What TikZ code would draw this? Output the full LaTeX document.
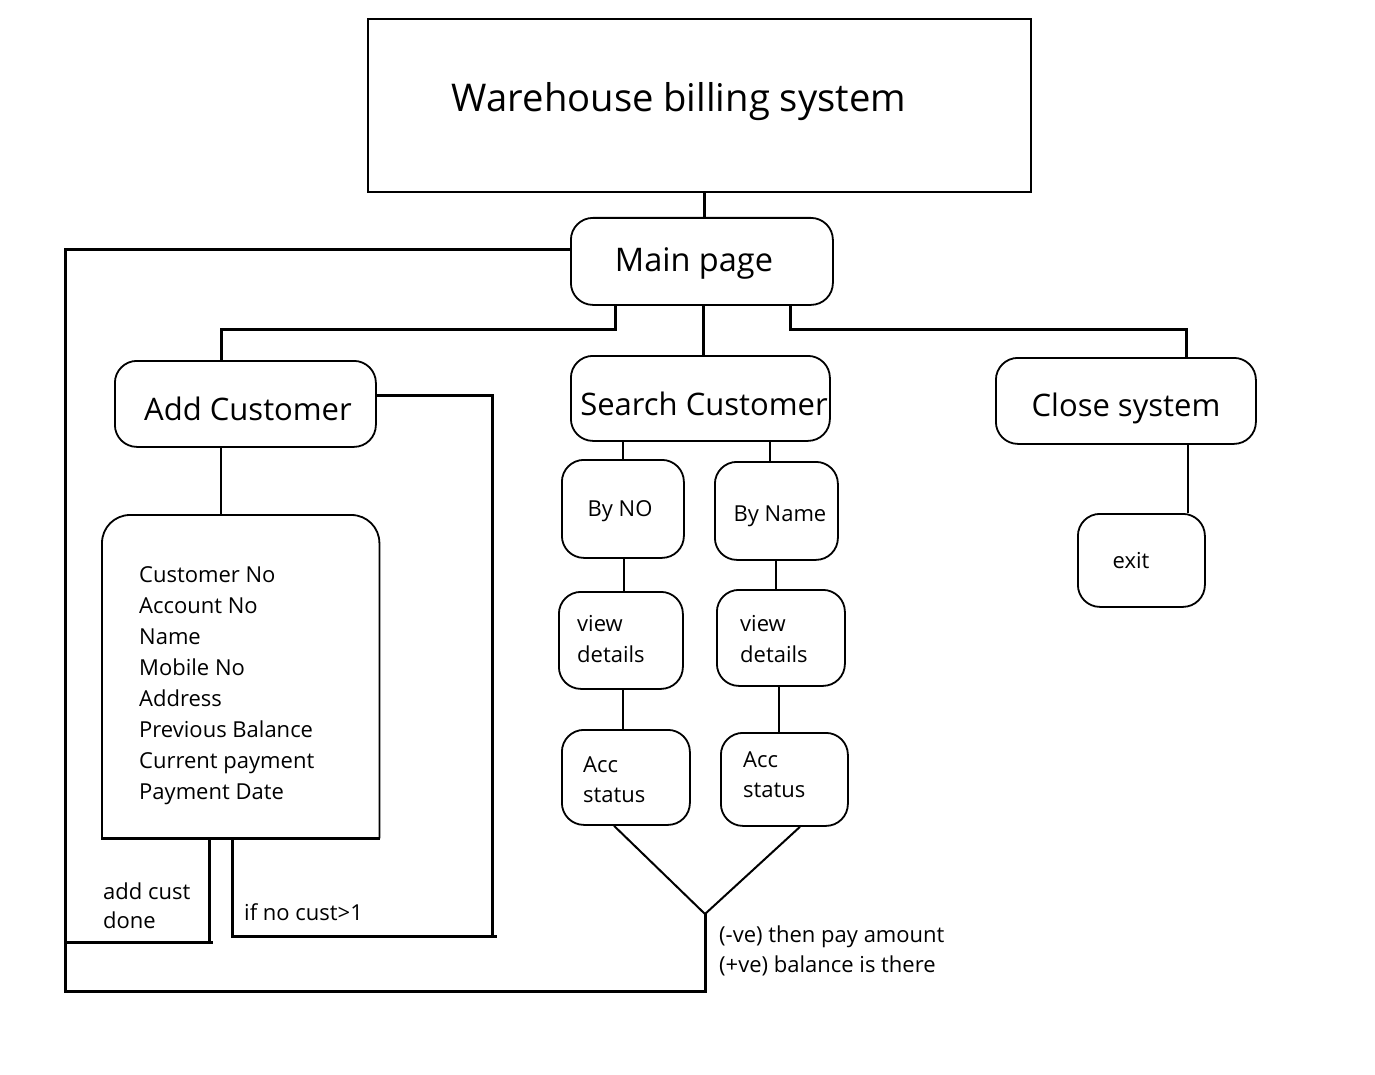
\documentclass[tikz,border=0pt]{standalone}
\usepackage{fontspec}
\setmainfont{Open Sans}
\begin{document}
\begin{tikzpicture}[x=1pt,y=-1pt,
  rbox/.style={draw, line width=1.8pt, rounded corners=22pt, inner sep=0pt, anchor=north west},
  sbox/.style={draw, line width=2.2pt, inner sep=0pt, anchor=north west},
  conn/.style={line width=3pt},
  thinconn/.style={line width=2pt},
  bigtxt/.style={inner sep=0pt, font=\fontsize{38.2}{45}\selectfont, anchor=base},
  lbltxt/.style={inner sep=0pt, font=\fontsize{31}{37}\selectfont, anchor=base},
  smalltxt/.style={inner sep=0pt, font=\fontsize{22}{27}\selectfont, anchor=base west},
  smallctr/.style={inner sep=0pt, font=\fontsize{22}{27}\selectfont, anchor=base}
]
\fill[white] (0,0) rectangle (1375,1075);
\useasboundingbox (0,0) rectangle (1375,1075);

% boxes
\node[sbox, minimum width=663, minimum height=173] (title) at (367,18) {};
\node[rbox, minimum width=262, minimum height=87] (main) at (570,217) {};
\node[rbox, minimum width=261, minimum height=86] (addc) at (114,360) {};
\node[rbox, minimum width=259, minimum height=85] (search) at (570,355) {};
\node[rbox, minimum width=260, minimum height=86] (close) at (995,357) {};
\node[rbox, minimum width=127, minimum height=93] (exit) at (1077,513) {};
\node[rbox, minimum width=122, minimum height=98] (byno) at (561,459) {};
\node[rbox, minimum width=123, minimum height=98] (byname) at (714,461) {};
\node[rbox, minimum width=124, minimum height=97] (viewL) at (558,591) {};
\node[rbox, minimum width=128, minimum height=96] (viewR) at (716,589) {};
\node[rbox, minimum width=128, minimum height=95] (accL) at (561,729) {};
\node[rbox, minimum width=127, minimum height=93] (accR) at (720,732) {};
\node[inner sep=0pt, anchor=north west, minimum width=277, minimum height=323] (cust) at (102,515) {};
\draw[line width=1.8pt, rounded corners=28pt] (cust.south west) |- (cust.north) -| (cust.south east);
\draw[line width=3pt] ([xshift=-1]cust.south west) -- ([xshift=1]cust.south east);

% texts
\node[bigtxt] (ttitle) at (679,112) {Warehouse billing system};
\node[lbltxt, font=\fontsize{32.5}{38}\selectfont] (tmain) at (694,272) {Main page};
\node[lbltxt] (taddc) at (248,420) {Add Customer};
\node[lbltxt] (tsearch) at (704,415) {Search Customer};
\node[lbltxt] (tclose) at (1126,416) {Close system};
\node[smallctr] (texit) at (1131,568) {exit};
\node[smallctr] (tbyno) at (620,516) {By NO};
\node[smallctr] (tbyname) at (780,521) {By Name};
\node[smalltxt] (tv1) at (577,631) {view};
\node[smalltxt] (tv2) at (577,662) {details};
\node[smalltxt] (tv3) at (740,631) {view};
\node[smalltxt] (tv4) at (740,662) {details};
\node[smalltxt] (ta1) at (583,772) {Acc};
\node[smalltxt] (ta2) at (583,802) {status};
\node[smalltxt] (ta3) at (743,767) {Acc};
\node[smalltxt] (ta4) at (743,797) {status};
\foreach \t [count=\i from 0] in {Customer No,Account No,Name,Mobile No,Address,Previous Balance,Current payment,Payment Date}{
  \node[smalltxt] (cl\i) at (139,582+31.1*\i) {\t};
}
\node[smalltxt] (tdone1) at (103,899) {add cust};
\node[smalltxt] (tdone2) at (103,928) {done};
\node[smalltxt] (tif) at (244,920) {if no cust>1};
\node[smalltxt] (tneg) at (719,942) {(-ve) then pay amount};
\node[smalltxt] (tpos) at (719,972) {(+ve) balance is there};

% connectors
\coordinate (vjoin) at (705,914);
\draw[conn] (main.north -| 704,0) -- (title.south -| 704,0);
\draw[conn] (main.south -| 615,0) |- (221,329) -- (addc.north -| 221,0);
\draw[conn] (main.south -| 703,0) -- (search.north -| 703,0);
\draw[conn] (main.south -| 790,0) |- (1186,329) -- (close.north -| 1186,0);
\draw[conn] (main.west |- 0,250) -- (65,250) -- (65,991) -| (vjoin);
\draw[thinconn] (accL.south -| 614,0) -- (vjoin) -- (accR.south -| 800,0);
\draw[conn] (cust.south -| 209,0) |- (66,942);
\draw[conn] (209,942) -- (213,942);
\draw[conn] (addc.east |- 0,395) -| (492,936) -| (cust.south -| 232,0);
\draw[conn] (492,936) -- (497,936);
\draw[thinconn] (addc.south -| 221,0) -- (cust.north -| 221,0);
\draw[line width=2.4pt] (search.south -| 623,0) -- (byno.north -| 623,0);
\draw[line width=2.4pt] (search.south -| 770,0) -- (byname.north -| 770,0);
\draw[thinconn] (byno.south -| 623.5,0) -- (viewL.north -| 623.5,0);
\draw[thinconn] (byname.south -| 776,0) -- (viewR.north -| 776,0);
\draw[thinconn] (viewL.south -| 623,0) -- (accL.north -| 623,0);
\draw[thinconn] (viewR.south -| 779,0) -- (accR.north -| 779,0);
\draw[thinconn] (close.south -| 1188,0) -- (exit.north -| 1188,0);
\end{tikzpicture}
\end{document}
